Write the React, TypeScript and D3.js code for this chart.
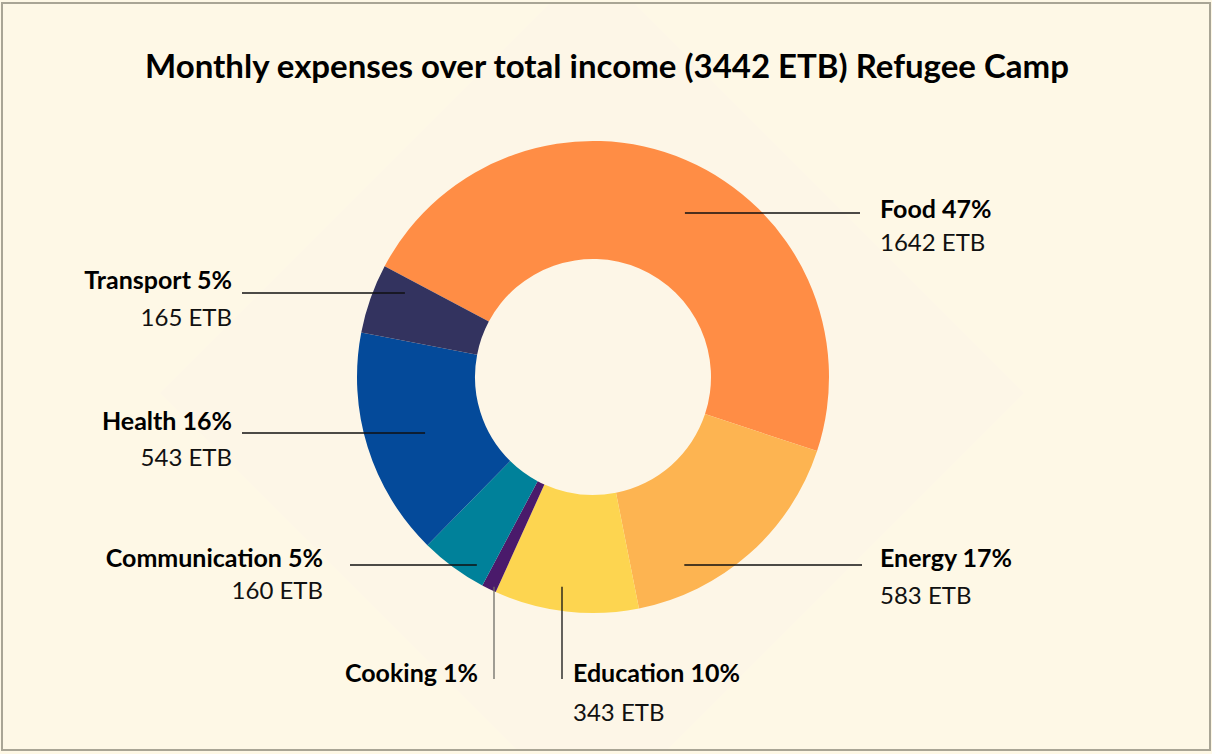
import { useEffect, useRef } from "react";
import * as d3 from "d3";

// Monthly expenses (ETB) per category, clockwise from the top-left
const categories = ["Food", "Energy", "Education", "Cooking", "Communication", "Health", "Transport"];
const amounts = [1642, 583, 343, 35, 160, 543, 165];
const percentLabels = ["47%", "17%", "10%", "1%", "5%", "16%", "5%"];
const amountLabels = ["1642 ETB", "583 ETB", "343 ETB", "", "160 ETB", "543 ETB", "165 ETB"];
const sliceColors = ["#ff8d45", "#fdb451", "#fdd550", "#4a1a6b", "#00819a", "#044a9a", "#33335f"];

const chartTitle = "Monthly expenses over total income (3442 ETB) Refugee Camp";

const W = 1212;
const H = 754;
const cx = 593;
const cy = 377;
const outerR = 236;
const innerR = 118;
const startDeg = -62;

// label placement: leader line position, where it meets the ring, and the text anchor
const labelLayout = [
    { dir: "right", lineY: 213, ringR: 188, lineEnd: 860, textX: 880, textY: 218, gap: 33 },
    { dir: "right", lineY: 565, ringR: 209, lineEnd: 862, textX: 880, textY: 567, gap: 37 },
    { dir: "down", lineX: 562, ringR: 212, lineEnd: 679, textX: 573, textY: 682, gap: 39 },
    { dir: "down", lineX: 494, ringR: 232, lineEnd: 679, textX: 478, textY: 682, gap: 0 },
    { dir: "left", lineY: 565, ringR: 221, lineEnd: 350, textX: 323, textY: 567, gap: 32 },
    { dir: "left", lineY: 433, ringR: 177, lineEnd: 242, textX: 232, textY: 430, gap: 36 },
    { dir: "left", lineY: 293, ringR: 206, lineEnd: 242, textX: 232, textY: 289, gap: 37 },
];

const FONT = "Lato, 'Open Sans', sans-serif";

export default function App() {
    const ref = useRef<SVGSVGElement>(null);

    useEffect(() => {
        const svg = d3.select(ref.current);
        svg.selectAll("*").remove();

        svg.append("rect").attr("width", W).attr("height", H).attr("fill", "#fef8e6");

        svg.append("clipPath")
            .attr("id", "frame-clip")
            .append("rect")
            .attr("x", 2)
            .attr("y", 3)
            .attr("width", 1208)
            .attr("height", 747);

        // faint diamond behind the donut
        const dcx = 592, dcy = 393, dh = 432;
        svg.append("path")
            .attr("clip-path", "url(#frame-clip)")
            .attr("d", `M${dcx},${dcy - dh}L${dcx + dh},${dcy}L${dcx},${dcy + dh}L${dcx - dh},${dcy}Z`)
            .attr("fill", "#fdf6e7");

        svg.append("rect")
            .attr("x", 2)
            .attr("y", 3)
            .attr("width", 1208)
            .attr("height", 747)
            .attr("fill", "none")
            .attr("stroke", "#a9a595")
            .attr("stroke-width", 2);

        svg.append("text")
            .attr("x", 607)
            .attr("y", 78)
            .attr("text-anchor", "middle")
            .attr("font-family", FONT)
            .attr("font-weight", 700)
            .attr("font-size", 33)
            .attr("fill", "#000")
            .text(chartTitle);

        const start = (startDeg * Math.PI) / 180;
        const pie = d3
            .pie<number>()
            .sort(null)
            .value((d) => d)
            .startAngle(start)
            .endAngle(start + 2 * Math.PI);
        const arcs = pie(amounts);
        const arc = d3.arc<d3.PieArcDatum<number>>().innerRadius(innerR).outerRadius(outerR);

        const g = svg.append("g").attr("transform", `translate(${cx},${cy})`);
        g.selectAll("path.slice")
            .data(arcs)
            .enter()
            .append("path")
            .attr("class", "slice")
            .attr("d", arc)
            .attr("fill", (d, i) => sliceColors[i]);

        // leader lines and labels
        const labels = svg.append("g");
        labelLayout.forEach((l, i) => {
            let x1, y1, x2, y2;
            if (l.dir === "down") {
                x1 = l.lineX as number;
                y1 = cy + Math.sqrt(l.ringR * l.ringR - (x1 - cx) * (x1 - cx));
                x2 = x1;
                y2 = l.lineEnd;
            } else {
                const side = l.dir === "right" ? 1 : -1;
                y1 = l.lineY as number;
                x1 = cx + side * Math.sqrt(l.ringR * l.ringR - (y1 - cy) * (y1 - cy));
                x2 = l.lineEnd;
                y2 = y1;
            }
            labels.append("line")
                .attr("x1", x1)
                .attr("y1", y1)
                .attr("x2", x2)
                .attr("y2", y2)
                .attr("stroke", categories[i] === "Cooking" ? "#6f6c66" : "#111")
                .attr("stroke-width", 1.3);

            const anchor = l.dir === "left" || categories[i] === "Cooking" ? "end" : "start";
            labels.append("text")
                .attr("x", l.textX)
                .attr("y", l.textY)
                .attr("text-anchor", anchor)
                .attr("font-family", FONT)
                .attr("font-weight", 700)
                .attr("font-size", 25)
                .attr("fill", "#000")
                .text(`${categories[i]} ${percentLabels[i]}`);

            if (amountLabels[i]) {
                labels.append("text")
                    .attr("x", l.textX)
                    .attr("y", l.textY + l.gap)
                    .attr("text-anchor", anchor)
                    .attr("font-family", FONT)
                    .attr("font-weight", 400)
                    .attr("font-size", 24)
                    .attr("fill", "#111")
                    .text(amountLabels[i]);
            }
        });
    }, []);

    return (
        <svg
            ref={ref}
            width={W}
            height={H}
            style={{ position: "absolute", left: 0, top: 0, display: "block" }}
        ></svg>
    );
}
